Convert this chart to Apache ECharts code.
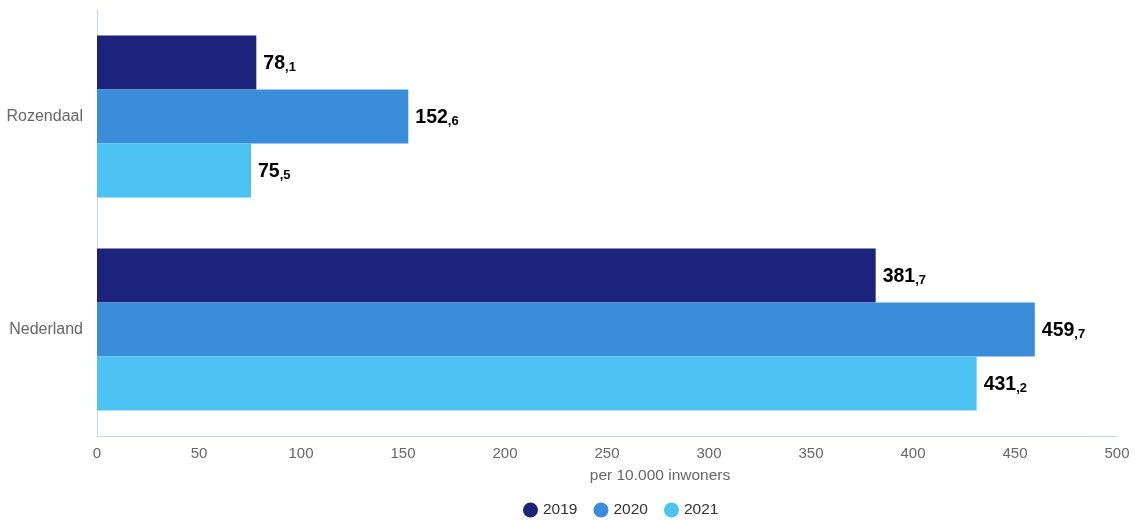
<!DOCTYPE html>
<html>
<head>
<meta charset="utf-8">
<script src="https://cdn.jsdelivr.net/npm/echarts@6/dist/echarts.min.js"></script>
<style>html,body{margin:0;padding:0;background:#fff}#c{width:1135px;height:520px}</style>
</head>
<body>
<div id="c"></div>
<script>
const categories = ['Rozendaal', 'Nederland'];
const seriesNames = ['2019', '2020', '2021'];
const values2019 = [78.1, 381.7];
const values2020 = [152.6, 459.7];
const values2021 = [75.5, 431.2];
const xTicks = [0, 50, 100, 150, 200, 250, 300, 350, 400, 450, 500];
const colors = ['#1c237a', '#3a8dd8', '#4dc3f3'];

const font = '"Liberation Sans", Arial, sans-serif';
function labelFmt(p) {
  const s = p.value.toFixed(1).split('.');
  return '{a|' + s[0] + '}{b|,' + s[1] + '}';
}
const allValues = [values2019, values2020, values2021];
const chart = echarts.init(document.getElementById('c'));
chart.setOption({
  animation: false,
  textStyle: { fontFamily: font },
  grid: { left: 97, right: 18, top: 10, bottom: 84 },
  legend: {
    top: 497, left: 518, icon: 'circle', itemWidth: 15, itemHeight: 15, itemGap: 16,
    textStyle: { fontSize: 15.5, color: '#333', fontFamily: font, padding: [0, 0, 0, 0] },
    data: seriesNames
  },
  xAxis: {
    type: 'value', min: xTicks[0], max: xTicks[xTicks.length - 1], interval: 50,
    name: 'per 10.000 inwoners', nameLocation: 'middle', nameGap: 40,
    nameTextStyle: { fontSize: 15.5, color: '#666', fontFamily: font, padding: [0, 0, 0, 106], verticalAlign: 'middle' },
    axisLine: { show: true, lineStyle: { color: '#ccd6eb' } },
    axisTick: { show: false },
    splitLine: { show: false },
    axisLabel: { fontSize: 15, color: '#666', margin: 10, fontFamily: font }
  },
  yAxis: {
    type: 'category', data: categories, inverse: true,
    axisLine: { show: true, lineStyle: { color: '#ccd6eb' } },
    axisTick: { show: false },
    axisLabel: { fontSize: 16, color: '#666', margin: 14, fontFamily: font }
  },
  series: seriesNames.map((n, i) => ({
    name: n, type: 'bar', data: allValues[i],
    barGap: 0, barCategoryGap: '24%',
    itemStyle: { color: colors[i] },
    label: {
      show: true, position: 'right', distance: 7, formatter: labelFmt,
      rich: {
        a: { fontSize: 19.5, fontWeight: 'bold', color: '#000', fontFamily: font, verticalAlign: 'bottom', lineHeight: 22 },
        b: { fontSize: 13, fontWeight: 'bold', color: '#000', fontFamily: font, verticalAlign: 'bottom', lineHeight: 17 }
      }
    }
  }))
});
</script>
</body>
</html>
